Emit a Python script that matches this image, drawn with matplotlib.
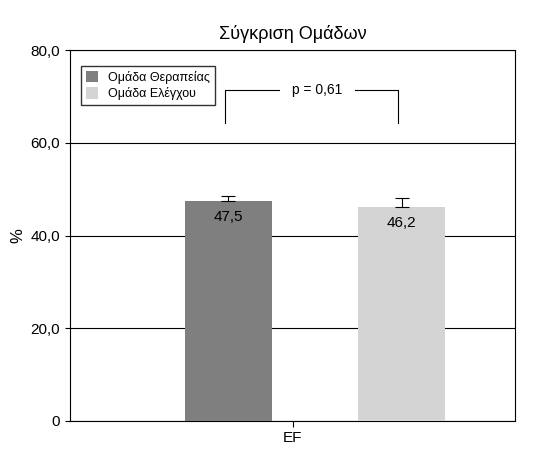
import matplotlib
matplotlib.use("Agg")
import matplotlib.pyplot as plt

groups = ["Ομάδα Θεραπείας", "Ομάδα Ελέγχου"]
values = [47.5, 46.2]
errors = [1.0, 1.9]
labels = ["47,5", "46,2"]
colors = ["#7f7f7f", "#d4d4d4"]
p_text = "p = 0,61"

plt.rcParams["font.family"] = ["Liberation Sans", "DejaVu Sans"]
fig = plt.figure(figsize=(5.43, 4.71), dpi=100)
ax = fig.add_axes([70 / 543, 50 / 471, 445 / 543, 371 / 471])

xs = [0.356, 0.745]
for x, v, e, c, g, lab in zip(xs, values, errors, colors, groups, labels):
    ax.bar(x, v, width=0.196, color=c, label=g, zorder=3)
    ax.errorbar(x, v, yerr=[[0], [e]], fmt="none", ecolor="black",
                elinewidth=0.8, capsize=5, capthick=0.8, zorder=4)
    ax.text(x, v - 2, lab, ha="center", va="top", fontsize=11, zorder=5)

# significance bracket
y0, y1 = 64.2, 71.3
ax.plot([0.348, 0.348, 0.47], [y0, y1, y1], color="black", lw=0.8)
ax.plot([0.64, 0.737, 0.737], [y1, y1, y0], color="black", lw=0.8)
ax.text(0.555, y1, p_text, ha="center", va="center", fontsize=10)

ax.set_xlim(0, 1)
ax.set_ylim(0, 80)
ax.set_yticks([0, 20, 40, 60, 80])
ax.set_yticklabels(["0", "20,0", "40,0", "60,0", "80,0"], fontsize=11)
ax.set_xticks([0.5])
ax.set_xticklabels(["EF"], fontsize=11)
ax.tick_params(axis="x", length=4)
ax.yaxis.grid(True, color="black", lw=0.8, zorder=0)
ax.set_ylabel("%", fontsize=12)
ax.set_title("Σύγκριση Ομάδων", fontsize=13, pad=8)
for s in ax.spines.values():
    s.set_linewidth(0.8)

ax.legend(loc="upper left", bbox_to_anchor=(0.01, 0.975), fontsize=9,
          frameon=True, fancybox=False, edgecolor="black", handlelength=1,
          handleheight=1, borderpad=0.4, labelspacing=0.3)

fig.savefig("out.png", dpi=100)
